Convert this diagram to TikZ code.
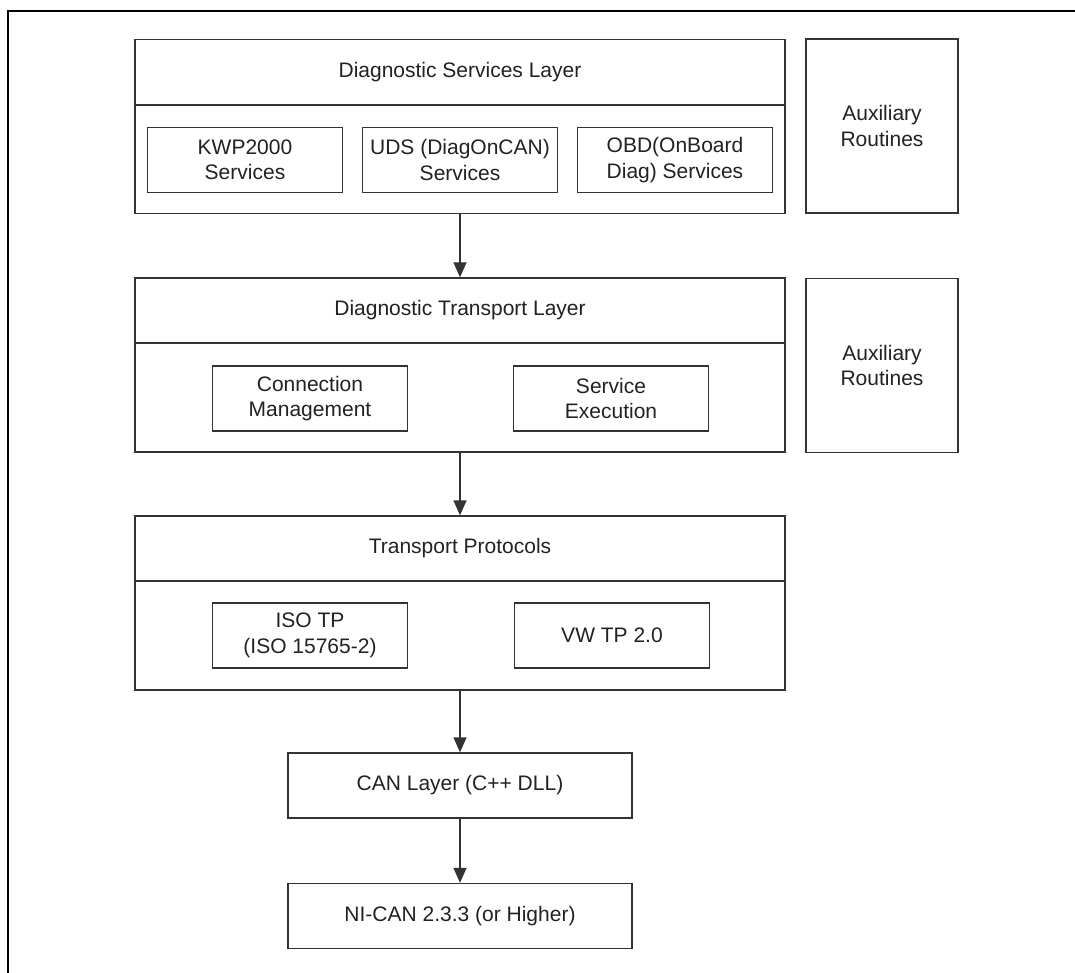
\documentclass[tikz,border=0pt]{standalone}
\usepackage{fontspec}
\setmainfont{Liberation Sans}
\usetikzlibrary{arrows.meta}
\definecolor{linec}{HTML}{333333}
\definecolor{textc}{HTML}{222222}
\begin{document}
\begin{tikzpicture}[x=1pt,y=-1pt,
  every node/.style={text=textc, font=\fontsize{21}{25.5}\selectfont, align=center, inner sep=0pt},
  layerbox/.style={draw=linec, line width=1.3pt, minimum width=650pt, minimum height=174pt},
  subbox/.style={draw=linec, line width=1.3pt, minimum width=195pt, minimum height=65pt},
  auxbox/.style={draw=linec, line width=1.3pt, minimum width=152pt, minimum height=174pt},
  widebox/.style={draw=linec, line width=1.3pt, minimum width=344pt, minimum height=65pt},
  divider/.style={draw=linec, line width=1.3pt},
  flow/.style={draw=linec, line width=1.3pt, -{Triangle[length=15pt,width=13pt]}},
  frame/.style={draw=black, line width=2.4pt}]
\useasboundingbox (0,0) rectangle (1075,973);
\fill[white] (0,0) rectangle (1075,973);
% outer frame
\draw[frame] (1075,11) -- (8,11) -- (8,973);

% Diagnostic Services Layer
\node[layerbox] (dsl) at (460,126.5) {};
\node (dslt) at (460,72.5) {Diagnostic Services Layer};
\draw[divider] (135,105) -- (785,105);
\node[subbox] (kwp) at (245,160) {KWP2000\\Services};
\node[subbox] (uds) at (460,160) {UDS (DiagOnCAN)\\Services};
\node[subbox] (obd) at (675,160) {OBD(OnBoard\\Diag) Services};
\node[auxbox] (aux1) at (882,126) {Auxiliary\\Routines};

% Diagnostic Transport Layer
\node[layerbox] (dtl) at (460,365) {};
\node (dtlt) at (460,310.5) {Diagnostic Transport Layer};
\draw[divider] (135,343) -- (785,343);
\node[subbox] (conn) at (310,398.5) {Connection\\Management};
\node[subbox] (exec) at (611,398.5) {Service\\Execution};
\node[auxbox] (aux2) at (882,365.5) {Auxiliary\\Routines};

% Transport Protocols
\node[layerbox] (tp) at (460,603) {};
\node (tpt) at (460,548.5) {Transport Protocols};
\draw[divider] (135,581) -- (785,581);
\node[subbox] (isotp) at (310,635.5) {ISO TP\\(ISO 15765-2)};
\node[subbox] (vwtp) at (612,635.5) {VW TP 2.0};

% CAN layers
\node[widebox] (can) at (460,785.5) {CAN Layer (C++ DLL)};
\node[widebox] (nican) at (460,916) {NI-CAN 2.3.3 (or Higher)};

% connectors
\draw[flow] (dsl.south) -- (dtl.north);
\draw[flow] (dtl.south) -- (tp.north);
\draw[flow] (tp.south) -- (can.north);
\draw[flow] (can.south) -- (nican.north);
\end{tikzpicture}
\end{document}
